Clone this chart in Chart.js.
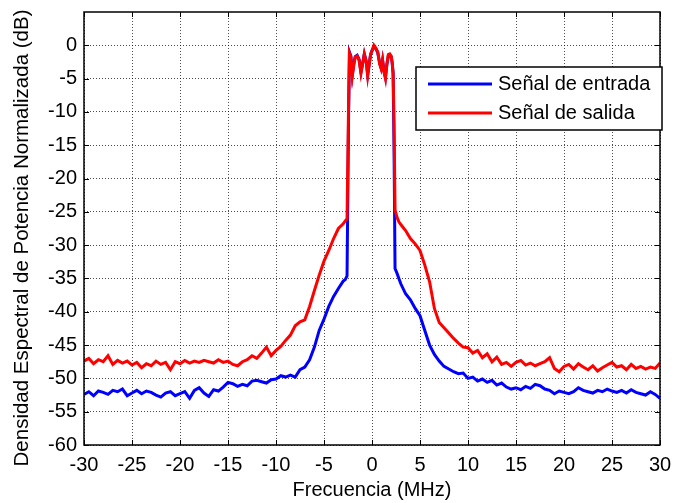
<!DOCTYPE html>
<html>
<head>
<meta charset="utf-8">
<script src="https://cdn.jsdelivr.net/npm/chart.js@4"></script>
<style>
  html, body { margin: 0; padding: 0; background: #fff; }
  #wrap { width: 685px; height: 503px; }
</style>
</head>
<body>
<div id="wrap"><canvas id="psd"></canvas></div>
<script>
// frequency axis (MHz) shared by both series
const freq = [
  -30, -29.5, -29, -28.5, -28, -27.5, -27, -26.5, -26, -25.5, -25, -24.5, -24, -23.5, -23, -22.5, -22, -21.5, -21, -20.5,
  -20, -19.5, -19, -18.5, -18, -17.5, -17, -16.5, -16, -15.5, -15, -14.5, -14, -13.5, -13, -12.5, -12, -11.5, -11, -10.5,
  -10, -9.5, -9, -8.5, -8, -7.5, -7, -6.5, -6, -5.5, -5, -4.5, -4, -3.5, -3,
  -2.8, -2.6, -2.45, -2.35, -2.2, -2.05, -1.9, -1.75, -1.55, -1.35, -1.15, -1.0, -0.8, -0.6, -0.45, -0.3, -0.15, 0,
  0.2, 0.4, 0.6, 0.8, 0.95, 1.1, 1.25, 1.4, 1.55, 1.7, 1.85, 2.0, 2.1, 2.2, 2.3, 2.4, 2.6, 2.8,
  3, 3.5, 4, 4.5, 5, 5.5, 6, 6.5, 7, 7.5, 8, 8.5, 9, 9.5, 10, 10.5, 11, 11.5, 12, 12.5,
  13, 13.5, 14, 14.5, 15, 15.5, 16, 16.5, 17, 17.5, 18, 18.5, 19, 19.5, 20, 20.5, 21, 21.5, 22, 22.5,
  23, 23.5, 24, 24.5, 25, 25.5, 26, 26.5, 27, 27.5, 28, 28.5, 29, 29.5, 30
];

const entrada = [
  -52.4, -52.0, -52.6, -51.9, -52.1, -52.4, -51.8, -52.0, -51.6, -52.6, -52.2, -51.8, -52.3, -51.9, -52.1, -52.5, -52.8, -52.2, -52.0, -52.6,
  -52.3, -52.0, -53.0, -51.8, -51.4, -52.2, -52.7, -51.7, -51.9, -51.3, -50.6, -50.8, -51.2, -50.9, -51.1, -50.4, -50.3, -50.5, -50.7, -50.2,
  -50.1, -49.6, -49.8, -49.5, -49.8, -48.7, -48.3, -47.2, -45.3, -42.8, -41.1, -39.2, -37.7, -36.5, -35.4,
  -35.2, -34.6, -12, -1.0, -1.6, -4.4, -2.8, -1.7, -1.5, -2.1, -4.0, -2.9, -1.3, -2.4, -4.4, -2.9, -1.4, -0.8,
  -0.2, -0.5, -1.1, -2.7, -3.4, -2.2, -3.9, -4.8, -2.9, -1.6, -1.5, -1.7, -2.6, -4.2, -16, -33.5, -34.2, -35.0,
  -35.8, -37.3, -38.2, -39.5, -40.6, -42.8, -45.0, -46.4, -47.4, -48.2, -48.6, -49.0, -49.3, -49.2, -50.0, -49.8, -50.4, -50.1, -50.6, -50.3,
  -51.0, -50.7, -51.3, -51.6, -51.4, -51.7, -51.2, -51.5, -50.9, -51.1, -51.6, -51.8, -52.3, -51.9, -52.1, -52.3, -52.0, -51.4, -51.8, -52.0,
  -52.2, -51.8, -52.0, -51.6, -51.9, -52.1, -51.8, -52.2, -51.7, -52.1, -52.3, -52.5, -52.0, -52.4, -53.0
];

const salida = [
  -47.4, -47.0, -47.8, -47.2, -47.5, -46.6, -47.9, -47.3, -47.7, -47.4, -48.0, -47.6, -48.4, -47.8, -48.1, -47.4, -47.9, -47.6, -48.7, -47.5,
  -47.8, -47.3, -47.7, -47.4, -47.6, -47.3, -47.5, -47.7, -47.2, -47.6, -47.4, -47.9, -48.1, -47.5, -47.2, -46.6, -47.0, -46.2, -45.3, -46.6,
  -45.8, -45.2, -44.3, -43.5, -42.1, -41.5, -41.2, -39.2, -36.8, -34.5, -32.4, -30.8, -29.0, -27.5, -26.8,
  -26.4, -26.0, -10, -1.2, -1.8, -4.6, -3.0, -1.8, -1.6, -2.2, -4.2, -3.0, -1.3, -2.5, -4.6, -3.0, -1.4, -0.8,
  0.0, -0.4, -1.0, -2.8, -3.5, -2.2, -4.0, -5.0, -2.8, -1.4, -1.3, -1.6, -2.6, -4.2, -12, -24.7, -25.8, -26.5,
  -26.9, -27.8, -29.0, -29.8, -30.8, -33.0, -35.5, -39.5, -41.6, -42.4, -43.2, -44.0, -44.7, -45.3, -45.4, -46.2, -45.8, -46.9, -46.3, -47.5,
  -46.8, -47.9, -47.6, -48.2, -47.6, -47.3, -48.0, -47.7, -48.1, -47.8, -47.5, -46.9, -48.5, -49.0, -48.2, -47.9, -48.6, -47.8, -48.3, -48.7,
  -48.1, -48.9, -48.4, -48.0, -47.6, -48.3, -48.1, -48.7, -47.9, -48.5, -48.2, -48.6, -48.3, -48.5, -47.7
];

const xTicks = [-30, -25, -20, -15, -10, -5, 0, 5, 10, 15, 20, 25, 30];
const yTicks = [-60, -55, -50, -45, -40, -35, -30, -25, -20, -15, -10, -5, 0];

const FONT = '"Liberation Sans", Arial, sans-serif';
const Y_TITLE = "Densidad Espectral de Potencia Normalizada (dB)";

// MATLAB-like frame, inner tick marks, y label and boxed legend
const matlabFrame = {
  id: "matlabFrame",
  afterDraw(chart) {
    const { ctx, chartArea: a, scales } = chart;
    ctx.save();
    ctx.strokeStyle = "#000";
    ctx.lineWidth = 1;
    ctx.beginPath();
    xTicks.forEach((t) => {
      const px = Math.round(scales.x.getPixelForValue(t)) + 0.5;
      ctx.moveTo(px, a.bottom); ctx.lineTo(px, a.bottom - 5);
      ctx.moveTo(px, a.top); ctx.lineTo(px, a.top + 5);
    });
    yTicks.forEach((t) => {
      const py = Math.round(scales.y.getPixelForValue(t)) + 0.5;
      ctx.moveTo(a.left, py); ctx.lineTo(a.left + 5, py);
      ctx.moveTo(a.right, py); ctx.lineTo(a.right - 5, py);
    });
    ctx.stroke();
    ctx.lineWidth = 1.5;
    ctx.strokeRect(a.left, a.top, a.right - a.left, a.bottom - a.top);

    // y axis label
    ctx.save();
    ctx.translate(22, 238);
    ctx.rotate(-Math.PI / 2);
    ctx.font = "20.5px " + FONT;
    ctx.fillStyle = "#000";
    ctx.textAlign = "center";
    ctx.textBaseline = "middle";
    ctx.fillText(Y_TITLE, 0, 0);
    ctx.restore();

    // legend box
    const bx = a.right - 244, by = a.top + 55, bw = 246, bh = 63;
    ctx.fillStyle = "#fff";
    ctx.fillRect(bx, by, bw, bh);
    ctx.lineWidth = 1.5;
    ctx.strokeRect(bx, by, bw, bh);
    ctx.font = "20px " + FONT;
    ctx.textBaseline = "middle";
    chart.data.datasets.forEach((ds, i) => {
      const y = by + 17 + i * 29;
      ctx.strokeStyle = ds.borderColor;
      ctx.lineWidth = 3;
      ctx.beginPath();
      ctx.moveTo(bx + 12, y); ctx.lineTo(bx + 76, y);
      ctx.stroke();
      ctx.fillStyle = "#000";
      ctx.fillText(ds.label, bx + 82, y);
    });
    ctx.restore();
  }
};

new Chart(document.getElementById("psd"), {
  type: "line",
  data: {
    labels: freq,
    datasets: [
      { label: "Señal de entrada", data: entrada, borderColor: "#0000FF", borderWidth: 3, pointRadius: 0, tension: 0, order: 1 },
      { label: "Señal de salida", data: salida, borderColor: "#FF0000", borderWidth: 3, pointRadius: 0, tension: 0, order: 0 }
    ]
  },
  options: {
    responsive: true,
    maintainAspectRatio: false,
    animation: false,
    layout: { padding: { top: 12, right: 25, left: 0, bottom: 0 } },
    plugins: { legend: { display: false }, tooltip: { enabled: false } },
    scales: {
      x: {
        type: "linear",
        min: -30,
        max: 30,
        afterBuildTicks: (s) => { s.ticks = xTicks.map((v) => ({ value: v })); },
        afterFit: (s) => { s.height = 58; s.paddingLeft = 0; s.paddingRight = 0; },
        ticks: { color: "#000", font: { family: FONT, size: 20 }, padding: 8, maxRotation: 0 },
        grid: { color: "rgba(0,0,0,0.7)", drawTicks: false },
        border: { display: false, dash: [1, 2] },
        title: { display: true, text: "Frecuencia (MHz)", color: "#000", font: { family: FONT, size: 20 }, padding: { top: 0, bottom: 1 } }
      },
      y: {
        min: -60,
        max: 5,
        afterBuildTicks: (s) => { s.ticks = yTicks.map((v) => ({ value: v })); },
        afterFit: (s) => { s.width = 84; s.paddingTop = 0; s.paddingBottom = 0; },
        ticks: { color: "#000", font: { family: FONT, size: 20 }, padding: 7 },
        grid: { color: "rgba(0,0,0,0.7)", drawTicks: false },
        border: { display: false, dash: [1, 2] },
        title: { display: false }
      }
    }
  },
  plugins: [matlabFrame]
});
</script>
</body>
</html>
